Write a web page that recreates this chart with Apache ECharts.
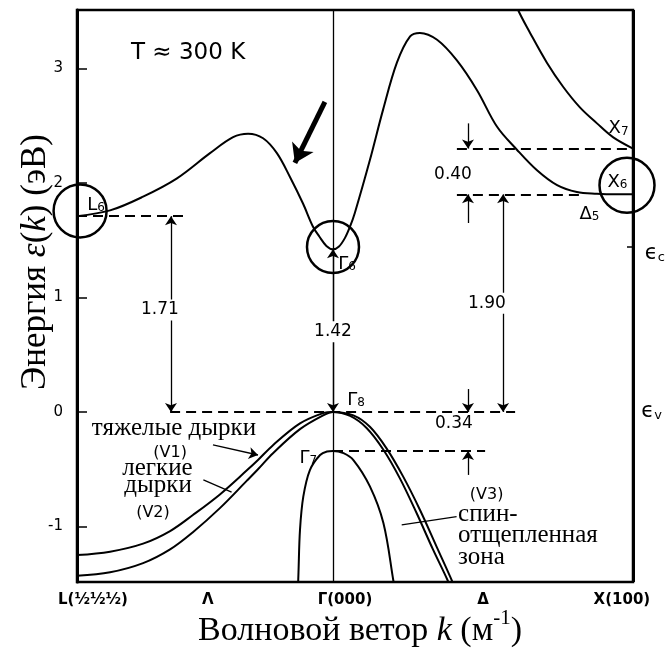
<!DOCTYPE html>
<html><head><meta charset="utf-8">
<script src="https://cdn.jsdelivr.net/npm/echarts@6/dist/echarts.min.js"></script>
<style>html,body{margin:0;padding:0;background:#fff}#c{width:668px;height:653px}</style>
</head><body><div id="c"></div>
<script>
// k: wave vector (Γ = 0, X = 1, L = -0.853 in the same units); E: energy, eV
const conductionK = [-0.853,-0.743,-0.633,-0.52,-0.41,-0.333,-0.283,-0.233,-0.187,-0.143,-0.10,-0.067,-0.045,-0.022,0,0.02,0.04,0.057,0.073,0.123,0.167,0.213,0.257,0.29,0.347,0.413,0.48,0.547,0.613,0.68,0.747,0.813,0.88,0.94,1.0];
const conductionE = [1.71,1.76,1.88,2.04,2.26,2.40,2.43,2.39,2.26,2.05,1.82,1.62,1.53,1.45,1.42,1.445,1.52,1.62,1.74,2.20,2.64,3.05,3.28,3.31,3.25,3.07,2.81,2.49,2.29,2.11,1.98,1.92,1.905,1.90,1.90];
const x7K = [0.603,0.617,0.657,0.713,0.767,0.823,0.88,0.933,1.0];
const x7E = [3.62,3.51,3.31,3.05,2.84,2.66,2.52,2.40,2.30];
const heavyK = [-0.853,-0.743,-0.633,-0.543,-0.467,-0.377,-0.287,-0.25,-0.2,-0.11,-0.033,0,0.068,0.123,0.179,0.234,0.29,0.346,0.396,0.41];
const heavyE = [-1.25,-1.22,-1.15,-1.04,-0.90,-0.72,-0.51,-0.42,-0.29,-0.10,-0.01,0,-0.03,-0.13,-0.32,-0.565,-0.856,-1.18,-1.47,-1.56];
const lightK = [-0.853,-0.743,-0.633,-0.543,-0.467,-0.377,-0.287,-0.25,-0.2,-0.11,-0.033,0,0.057,0.112,0.168,0.223,0.279,0.334,0.382,0.395];
const lightE = [-1.43,-1.40,-1.32,-1.20,-1.05,-0.84,-0.60,-0.50,-0.36,-0.15,-0.03,0,-0.035,-0.14,-0.33,-0.58,-0.885,-1.205,-1.47,-1.56];
const splitK = [-0.117,-0.115,-0.11,-0.099,-0.077,-0.043,-0.02,0,0.035,0.068,0.123,0.168,0.201,0.206];
const splitE = [-1.56,-1.40,-1.03,-0.74,-0.507,-0.376,-0.345,-0.34,-0.36,-0.42,-0.65,-0.97,-1.47,-1.56];

// band-edge levels (eV)
const levelL6 = 1.71, levelG6 = 1.42, levelX6 = 1.90, levelX7 = 2.30, levelG8 = 0, levelG7 = -0.34;
const gapLabels = ['1.71','1.42','1.90','0.40','0.34'];

// circled points
const circleK = [-0.843, 0, 0.98];
const circleE = [1.755, 1.44, 1.98];

// point labels
const pointSym = ['L','Γ','Γ','Γ','X','X','Δ'];
const pointSub = ['6','6','8','7','7','6','5'];
const pointK = [-0.79, 0.047, 0.077, -0.082, 0.952, 0.948, 0.855];
const pointE = [1.825, 1.31, 0.122, -0.384, 2.49, 2.026, 1.747];

// x tick labels
const xTickLabels = ['L(½½½)','Λ','Γ(000)','Δ','X(100)'];
const xTickK = [-0.80, -0.417, 0.04, 0.50, 0.963];

const K_L = -0.8533, K_X = 1, E_MIN = -1.485, E_MAX = 3.51;
const zip = (a,b) => a.map((v,i)=>[v,b[i]]);

const band = (name,k,e) => ({
  name, type:'line', data: zip(k,e), smooth:0.35, showSymbol:false, symbol:'none',
  lineStyle:{color:'#000', width:2}, clip:true, silent:true, z:3
});

const dash = {color:'#000', width:2, type:[10,6]};
const solid = {color:'#000', width:1.3, type:'solid'};
function seg(k1,e1,k2,e2,style,s1,s2,size){
  return [{coord:[k1,e1], symbol:s1||'none', symbolSize:size||9, lineStyle:style},
          {coord:[k2,e2], symbol:s2||'none', symbolSize:size||9}];
}

const lines = [
  {xAxis:0, lineStyle:{color:'#000', width:1.3, type:'solid'}},
  {xAxis:1, lineStyle:{color:'#000', width:3, type:'solid'}},
  seg(K_L, levelL6, -0.5, levelL6, dash),
  seg(-0.543, levelG8, 0.607, levelG8, dash),
  seg(0, levelG7, 0.507, levelG7, dash),
  seg(0.413, levelX7, K_X, levelX7, dash),
  seg(0.413, levelX6, 0.83, levelX6, dash),
  seg(-0.54, levelL6, -0.54, levelG8, solid, 'arrow', 'arrow'),
  seg(0, levelG6, 0, levelG8, solid, 'arrow', 'arrow'),
  seg(0.567, levelX6, 0.567, levelG8, solid, 'arrow', 'arrow'),
  seg(0.45, 2.52, 0.45, levelX7, solid, 'none', 'arrow'),
  seg(0.45, 1.65, 0.45, levelX6, solid, 'none', 'arrow'),
  seg(0.45, 0.2, 0.45, levelG8, solid, 'none', 'arrow'),
  seg(0.45, -0.55, 0.45, levelG7, solid, 'none', 'arrow'),
  seg(-0.40, -0.288, -0.25, -0.376, solid, 'none', 'arrow'),
  seg(-0.432, -0.594, -0.338, -0.70, solid),
  seg(0.229, -0.987, 0.412, -0.914, solid),
  seg(0.98, 1.44, 1.0, 1.44, {color:'#000', width:1.5, type:'solid'}),
  seg(0.99, 0.03, 1.013, 0.03, {color:'#000', width:1.5, type:'solid'}),
  seg(-0.027, 2.707, -0.127, 2.175, {color:'#000', width:5, type:'solid'}, 'none', 'arrow', 18)
];

const sans = 'DejaVu Sans', serif = 'Liberation Serif';
const rich = {
  m:{fontFamily:sans, fontSize:18, lineHeight:22, verticalAlign:'bottom', color:'#000'},
  s:{fontFamily:sans, fontSize:12, lineHeight:12, verticalAlign:'bottom', color:'#000'},
  e:{fontFamily:sans, fontSize:21, lineHeight:24, verticalAlign:'bottom', color:'#000'},
  es:{fontFamily:sans, fontSize:13, lineHeight:13, verticalAlign:'bottom', color:'#000'}
};
function txt(k,e,text,extra){
  return {value:[k,e], label:Object.assign({show:true, position:'inside', formatter:text, color:'#000',
    fontFamily:sans, fontSize:17, rich}, extra||{})};
}
const numStyle = {fontSize:17, backgroundColor:'#fff', padding:[2,2]};
const texts = [
  txt(-0.483, 3.135, 'T ≈ 300 K', {fontSize:23}),
  txt(-0.577, 0.89, gapLabels[0], numStyle),
  txt(0, 0.70, gapLabels[1], numStyle),
  txt(0.513, 0.95, gapLabels[2], numStyle),
  txt(0.40, 2.07, gapLabels[3], {fontSize:17}),
  txt(0.403, -0.105, gapLabels[4], {fontSize:17}),
  txt(-0.53, -0.145, 'тяжелые дырки', {fontFamily:serif, fontSize:25}),
  txt(-0.543, -0.358, '(V1)', {fontSize:16}),
  txt(-0.585, -0.49, 'легкие', {fontFamily:serif, fontSize:25}),
  txt(-0.583, -0.64, 'дырки', {fontFamily:serif, fontSize:25}),
  txt(-0.60, -0.882, '(V2)', {fontSize:16}),
  txt(0.512, -0.725, '(V3)', {fontSize:16}),
  txt(0.417, -1.08, 'спин-\nотщепленная\nзона', {fontFamily:serif, fontSize:25, lineHeight:21.5, align:'left'}),
  txt(1.073, 1.40, '{e|ϵ}{es|c}'),
  txt(1.062, 0.017, '{e|ϵ}{es|v}')
];
pointSym.forEach((s,i)=>texts.push(txt(pointK[i], pointE[i], '{m|'+s+'}{s|'+pointSub[i]+'}')));
xTickLabels.forEach((s,i)=>texts.push(txt(xTickK[i], -1.64, s, {fontSize:15, fontWeight:'bold'})));

const chart = echarts.init(document.getElementById('c'));
chart.setOption({
  animation:false,
  backgroundColor:'#fff',
  grid:{left:77, right:35, top:10, bottom:71, show:true, borderColor:'#000', borderWidth:2.5},
  xAxis:{type:'value', min:K_L, max:K_X, axisLine:{show:false}, axisTick:{show:false}, axisLabel:{show:false}, splitLine:{show:false}},
  yAxis:{type:'value', min:E_MIN, max:E_MAX, minInterval:1, maxInterval:1, splitNumber:5,
    splitLine:{show:false},
    axisLine:{show:true, onZero:false, lineStyle:{color:'#000', width:3}},
    axisTick:{show:true, inside:true, length:10, lineStyle:{color:'#000', width:1.5}},
    axisLabel:{margin:14, color:'#000', fontFamily:sans, fontSize:15,
      formatter:v => Math.abs(v-Math.round(v))<1e-6 ? String(Math.round(v)) : ''}},
  graphic:[
    {type:'text', x:36, y:262, rotation:Math.PI/2, style:{
      text:'{n|Энергия }{i|ε}{n|(}{i|k}{n|) (эВ)}', align:'center', verticalAlign:'middle',
      rich:{n:{fontFamily:serif, fontSize:35, fill:'#000'}, i:{fontFamily:serif, fontSize:35, fontStyle:'italic', fill:'#000'}}}},
    {type:'text', x:360, y:628, style:{
      text:'{n|Волновой ветор }{i|k}{n| (м}{u|-1}{n|)}', align:'center', verticalAlign:'middle',
      rich:{n:{fontFamily:serif, fontSize:34, lineHeight:40, verticalAlign:'bottom', fill:'#000'},
            i:{fontFamily:serif, fontSize:34, lineHeight:40, verticalAlign:'bottom', fontStyle:'italic', fill:'#000'},
            u:{fontFamily:serif, fontSize:21, lineHeight:21, verticalAlign:'top', fill:'#000'}}}}
  ],
  series:[
    band('conduction', conductionK, conductionE),
    band('X7', x7K, x7E),
    band('heavy', heavyK, heavyE),
    band('light', lightK, lightE),
    band('split', splitK, splitE),
    {type:'line', data:[], silent:true, z:2,
     markLine:{silent:true, symbol:['none','none'], label:{show:false}, animation:false, data:lines}},
    {type:'scatter', clip:false, silent:true, z:4,
     data: circleK.map((k,i)=>({value:[k,circleE[i]], symbolSize:[53,52,55][i]})),
     itemStyle:{color:'rgba(0,0,0,0)', borderColor:'#000', borderWidth:2.5, opacity:1}},
    {type:'scatter', clip:false, silent:true, z:5, symbolSize:1,
     itemStyle:{color:'rgba(0,0,0,0)', opacity:1}, data:texts}
  ]
});
</script></body></html>
